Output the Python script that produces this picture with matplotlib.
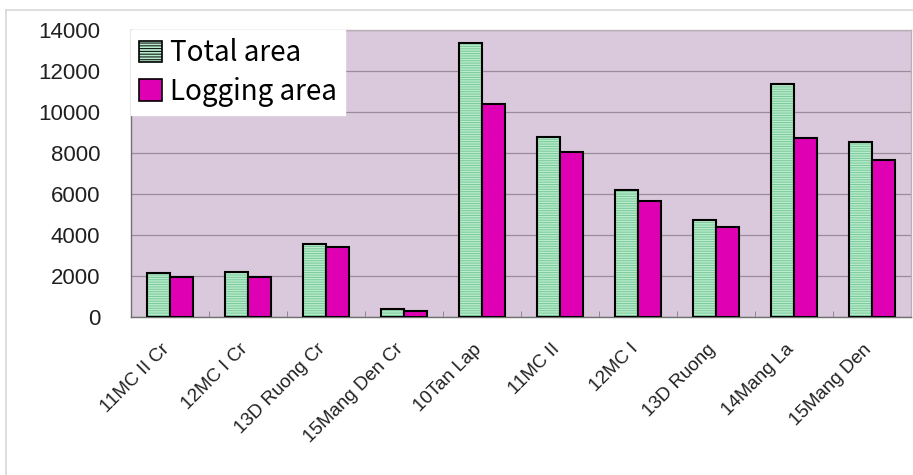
import matplotlib
matplotlib.use("Agg")
import matplotlib.pyplot as plt
import matplotlib.transforms as mtransforms
import numpy as np
from matplotlib.patches import Patch
from matplotlib.lines import Line2D

categories = ["11MC II Cr", "12MC I Cr", "13D Ruong Cr", "15Mang Den Cr", "10Tan Lap",
              "11MC II", "12MC I", "13D Ruong", "14Mang La", "15Mang Den"]
total_area = [2170, 2190, 3580, 380, 13370, 8760, 6210, 4750, 11360, 8530]
logging_area = [1975, 1930, 3400, 280, 10410, 8070, 5640, 4400, 8740, 7660]
yticks = [0, 2000, 4000, 6000, 8000, 10000, 12000, 14000]

plt.rcParams['hatch.linewidth'] = 0.7

fig = plt.figure(figsize=(9.13, 4.75), dpi=100)
fig.patch.set_facecolor("white")
# outer chart frame
fig.add_artist(Line2D([6/913, 1.0], [1-10/475, 1-10/475], transform=fig.transFigure, color="#d8d8d8", lw=1.2))
fig.add_artist(Line2D([6/913, 6/913], [1-10/475, 0.0], transform=fig.transFigure, color="#d8d8d8", lw=1.2))

ax = fig.add_axes([131/913, 1-317/475, 780/913, 287/475])
ax.set_facecolor("#dac9dc")

x = np.arange(len(categories))
w = 0.29
green = "#b8eccc"
magenta = "#e000b4"

ax.bar(x - w/2, total_area, w, color=green, edgecolor="#78c898", hatch="-------", linewidth=0, zorder=3)
ax.bar(x - w/2, total_area, w, fill=False, edgecolor="black", linewidth=1.5, zorder=4)
ax.bar(x + w/2, logging_area, w, color=magenta, edgecolor="black", linewidth=1.5, zorder=4)

ax.set_xlim(-0.5, len(categories) - 0.5)
ax.set_ylim(0, 14000)
ax.set_yticks(yticks)
ax.set_yticklabels([str(v) for v in yticks], fontsize=16, family="Liberation Sans", color="#202020")
ax.tick_params(axis="y", length=0, pad=22)
ax.yaxis.grid(True, color="#9a8c9c", linewidth=0.9, zorder=1)
ax.set_axisbelow(True)

ax.set_xticks(x)
ax.set_xticklabels(categories, rotation=45, ha="right", rotation_mode="anchor",
                   fontsize=13.5, family="Liberation Sans", color="#202020")
ax.tick_params(axis="x", length=0, pad=17)
offset = mtransforms.ScaledTranslation(-9/100, 0, fig.dpi_scale_trans)
for lbl in ax.get_xticklabels():
    lbl.set_transform(lbl.get_transform() + offset)
ax.set_xticks(np.arange(len(categories) + 1) - 0.5, minor=True)
ax.tick_params(axis="x", which="minor", direction="in", length=4, color="#808080")

for s in ["left", "bottom"]:
    ax.spines[s].set_color("#707070")
    ax.spines[s].set_linewidth(1.0)
for s in ["top", "right"]:
    ax.spines[s].set_color("#b8b0b8")
    ax.spines[s].set_linewidth(1.0)

handles = [Patch(facecolor=green, edgecolor="black", hatch="------", linewidth=1.2),
           Patch(facecolor=magenta, edgecolor="black", linewidth=1.2)]
leg = ax.legend(handles, ["Total area", "Logging area"], loc="upper left",
                bbox_to_anchor=(0.0, 1.0), borderaxespad=0.0, frameon=True,
                fancybox=False, framealpha=1.0, edgecolor="white", facecolor="white",
                prop={"family": "Noto Sans CJK JP", "size": 20},
                handlelength=0.8, handleheight=0.8, handletextpad=0.3,
                labelspacing=0.3, borderpad=0.3)
leg.set_zorder(10)

fig.savefig("out.png", dpi=100, facecolor="white")
